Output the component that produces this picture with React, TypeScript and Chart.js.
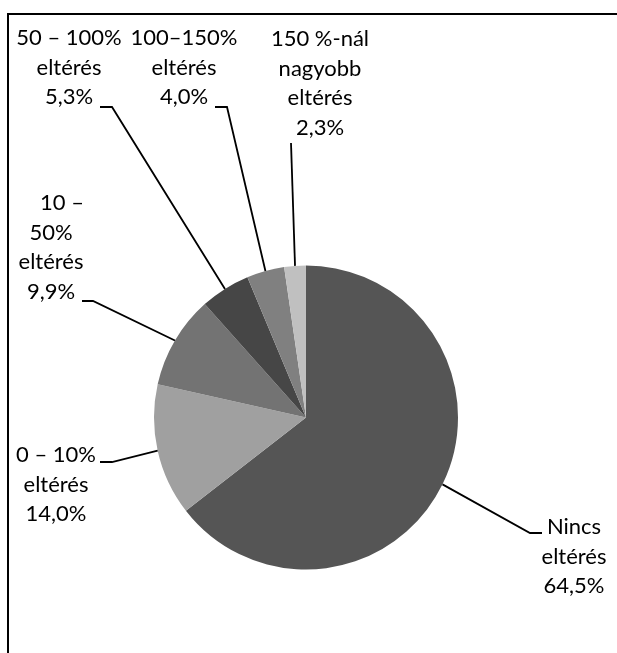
import React, { useEffect, useRef } from "react";
import { Chart, registerables } from "chart.js";

Chart.register(...registerables);

const categories = [
  "Nincs eltérés",
  "0 – 10% eltérés",
  "10 – 50% eltérés",
  "50 – 100% eltérés",
  "100–150% eltérés",
  "150 %-nál nagyobb eltérés",
];
const values = [64.5, 14.0, 9.9, 5.3, 4.0, 2.3];
const colors = ["#555555", "#a0a0a0", "#737373", "#464646", "#808080", "#c0c0c0"];
const labelLines = [
  ["Nincs", "eltérés"],
  ["0 – 10%", "eltérés"],
  ["10 –", "50%", "eltérés"],
  ["50 – 100%", "eltérés"],
  ["100–150%", "eltérés"],
  ["150 %-nál", "nagyobb", "eltérés"],
];

// label placement (style/layout only)
const labelLayout = [
  { cx: 574, top: 527, dx: [0, 0, 0], path: [[530, 533], [542, 533]] },
  { cx: 56, top: 455, dx: [0, 0, 0], path: [[112, 462], [100, 462]] },
  { cx: 51, top: 203, dx: [11, 0, 0, 0], path: [[93, 301], [82, 301]] },
  { cx: 69, top: 38, dx: [0, 0, 0], path: [[112, 107], [100, 107]] },
  { cx: 184, top: 38, dx: [0, 0, 0], path: [[227, 107], [215, 107]] },
  { cx: 320, top: 39, dx: [0, 0, 0, 0], path: [[291, 143]] },
];
const LINE_H = 29.7;
const FONT = "22px Lato";

const fmt = (v: number) => v.toFixed(1).replace(".", ",") + "%";

const labelPlugin = {
  id: "leaderLabels",
  afterDatasetsDraw(chart: any) {
    const ctx = chart.ctx;
    const meta = chart.getDatasetMeta(0);
    ctx.save();
    meta.data.forEach((arc: any, i: number) => {
      const p = arc.getProps(["x", "y", "startAngle", "endAngle", "outerRadius"], true);
      const mid = (p.startAngle + p.endAngle) / 2;
      const sx = p.x + Math.cos(mid) * p.outerRadius;
      const sy = p.y + Math.sin(mid) * p.outerRadius;
      const lay = labelLayout[i];
      ctx.beginPath();
      ctx.moveTo(sx, sy);
      lay.path.forEach(([x, y]) => ctx.lineTo(x, y));
      ctx.strokeStyle = "#000";
      ctx.lineWidth = 1.8;
      ctx.stroke();
      const lines = [...labelLines[i], fmt(values[i])];
      ctx.font = FONT;
      ctx.fillStyle = "#000";
      ctx.textAlign = "center";
      ctx.textBaseline = "middle";
      lines.forEach((t, k) => {
        ctx.fillText(t, lay.cx + (lay.dx[k] || 0), lay.top + k * LINE_H);
      });
    });
    ctx.restore();
  },
};

export default function App() {
  const ref = useRef<HTMLCanvasElement | null>(null);
  useEffect(() => {
    if (!ref.current) return;
    const chart = new Chart(ref.current, {
      type: "pie",
      data: {
        labels: categories,
        datasets: [
          {
            data: values,
            backgroundColor: colors,
            borderWidth: 0,
          },
        ],
      },
      options: {
        responsive: false,
        animation: false,
        layout: { padding: { left: 154, right: 159, top: 265.5, bottom: 83.5 } },
        plugins: {
          legend: { display: false },
          tooltip: { enabled: false },
        },
      },
      plugins: [labelPlugin],
    });
    return () => chart.destroy();
  }, []);
  return (
    <div
      style={{
        position: "fixed",
        left: 0,
        top: 0,
        width: 617,
        height: 653,
        overflow: "hidden",
        background: "#fff",
      }}
    >
      <div
        style={{
          position: "absolute",
          left: 7,
          top: 13,
          width: 610,
          height: 640,
          borderTop: "2px solid #000",
          borderLeft: "2px solid #000",
        }}
      />
      <canvas
        ref={ref}
        width={617}
        height={653}
        style={{ position: "absolute", left: 0, top: 0 }}
      />
    </div>
  );
}
